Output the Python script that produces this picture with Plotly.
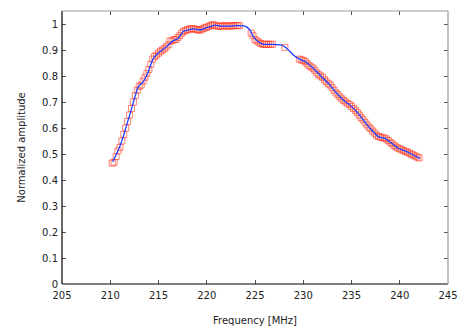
import plotly.graph_objects as go

# measured points (red squares)
meas_freq = [
    210.2, 210.4, 210.6, 210.8, 211.0, 211.2, 211.4, 211.6, 211.8, 212.0,
    212.2, 212.4, 212.6, 212.8, 213.0, 213.2, 213.4, 213.6, 213.8, 214.0,
    214.2, 214.4, 214.6, 214.8, 215.0, 215.2, 215.4, 215.6, 215.8, 216.0,
    216.2, 216.4, 216.6, 216.8, 217.0, 217.2, 217.4, 217.6, 217.8, 218.0,
    218.2, 218.4, 218.6, 218.8, 219.0, 219.2, 219.4, 219.6, 219.8, 220.0,
    220.2, 220.4, 220.6, 220.8, 221.0, 221.2, 221.4, 221.6, 221.8, 222.0,
    222.2, 222.4, 222.6, 222.8, 223.0, 223.2, 223.4,
    224.6, 224.8, 225.0, 225.2, 225.4, 225.6, 225.8, 226.0, 226.2, 226.4,
    226.6, 226.8,
    228.1,
    229.6, 229.8, 230.0, 230.2, 230.4, 230.6, 230.8, 231.0, 231.2, 231.4,
    231.6, 231.8, 232.0, 232.2, 232.4, 232.6, 232.8, 233.0, 233.2, 233.4,
    233.6, 233.8, 234.0, 234.2, 234.4, 234.6, 234.8, 235.0, 235.2, 235.4,
    235.6, 235.8, 236.0, 236.2, 236.4, 236.6, 236.8, 237.0, 237.2, 237.4,
    237.6, 237.8, 238.0, 238.2, 238.4, 238.6, 238.8, 239.0, 239.2, 239.4,
    239.6, 239.8, 240.0, 240.2, 240.4, 240.6, 240.8, 241.0, 241.2, 241.4,
    241.6, 241.8, 242.0,
]
meas_amp = [
    0.465, 0.468, 0.490, 0.512, 0.525, 0.550, 0.575, 0.600, 0.625, 0.650,
    0.675, 0.700, 0.725, 0.745, 0.760, 0.765, 0.780, 0.795, 0.810, 0.825,
    0.845, 0.865, 0.875, 0.880, 0.888, 0.895, 0.900, 0.905, 0.912, 0.920,
    0.935, 0.935, 0.940, 0.940, 0.948, 0.955, 0.965, 0.972, 0.975, 0.978,
    0.980, 0.982, 0.982, 0.980, 0.978, 0.976, 0.978, 0.982, 0.985, 0.988,
    0.990, 0.995, 0.997, 0.996, 0.993, 0.991, 0.992, 0.992, 0.993, 0.993,
    0.992, 0.992, 0.993, 0.993, 0.994, 0.994, 0.993,
    0.965, 0.955, 0.940, 0.935, 0.930, 0.925, 0.922, 0.922, 0.922, 0.922,
    0.922, 0.922,
    0.910,
    0.865, 0.862, 0.860, 0.855, 0.847, 0.840, 0.835, 0.830, 0.822, 0.812,
    0.805, 0.800, 0.795, 0.785, 0.778, 0.770, 0.765, 0.755, 0.745, 0.735,
    0.728, 0.720, 0.712, 0.706, 0.700, 0.695, 0.690, 0.683, 0.675, 0.668,
    0.660, 0.650, 0.640, 0.632, 0.622, 0.612, 0.603, 0.597, 0.588, 0.580,
    0.572, 0.567, 0.565, 0.563, 0.561, 0.558, 0.552, 0.545, 0.540, 0.533,
    0.527, 0.523, 0.520, 0.516, 0.513, 0.510, 0.507, 0.503, 0.499, 0.496,
    0.492, 0.488, 0.485,
]

# model curve (blue line)
fit_freq = [
    210.25, 210.84, 211.29, 211.70, 212.12, 212.56, 212.91, 213.43, 213.95, 214.46,
    215.16, 215.85, 216.37, 217.05, 217.57, 218.61, 219.30, 219.99, 220.85, 221.37,
    222.41, 223.27, 223.96, 224.48, 224.82, 225.34, 225.86, 226.73, 227.76, 228.28,
    228.97, 229.66, 230.18, 231.04, 231.91, 232.77, 233.47, 234.15, 234.84, 235.54,
    236.22, 236.92, 237.78, 238.47, 239.17, 239.85, 240.72, 241.40, 242.10,
]
fit_amp = [
    0.470, 0.515, 0.560, 0.611, 0.663, 0.720, 0.759, 0.778, 0.817, 0.868,
    0.894, 0.913, 0.932, 0.945, 0.971, 0.981, 0.977, 0.986, 0.996, 0.992,
    0.992, 0.994, 0.992, 0.977, 0.951, 0.932, 0.922, 0.922, 0.919, 0.907,
    0.881, 0.864, 0.856, 0.830, 0.797, 0.765, 0.733, 0.708, 0.688, 0.663,
    0.631, 0.599, 0.567, 0.560, 0.541, 0.522, 0.509, 0.496, 0.483,
]

x_ticks = [205, 210, 215, 220, 225, 230, 235, 240, 245]
y_ticks = [0, 0.1, 0.2, 0.3, 0.4, 0.5, 0.6, 0.7, 0.8, 0.9, 1]

fig = go.Figure()
fig.add_trace(go.Scatter(
    x=meas_freq, y=meas_amp, mode='markers', name='measured',
    marker=dict(symbol='square-open', size=6, color='rgba(255,50,25,0.6)',
                line=dict(width=1)),
))
fig.add_trace(go.Scatter(
    x=fit_freq, y=fit_amp, mode='lines', name='fit',
    line=dict(color='#1f3dff', width=1.3, shape='spline', smoothing=0.6),
))

label_font = dict(family='DejaVu Sans', size=10, color='#222')
axis_common = dict(
    showgrid=False, zeroline=False, showline=False, automargin=False,
    ticks='inside', ticklen=4, tickcolor='#555', mirror='ticks',
    tickfont=label_font,
)
fig.update_xaxes(
    range=[205, 245], tickvals=x_ticks, ticklabelstandoff=4,
    title=dict(text='Frequency [MHz]', font=label_font, standoff=16),
    **axis_common,
)
fig.update_yaxes(
    range=[0, 1.05], tickvals=y_ticks, ticklabelstandoff=3,
    title=dict(text='Normalized amplitude', font=label_font, standoff=14),
    **axis_common,
)

# gnuplot-like border: black left/bottom, grey top/right
border = [
    dict(x0=0, x1=1, y0=0, y1=0, color='#000'),
    dict(x0=0, x1=0, y0=0, y1=1, color='#000'),
    dict(x0=0, x1=1, y0=1, y1=1, color='#999'),
    dict(x0=1, x1=1, y0=0, y1=1, color='#999'),
]
for b in border:
    fig.add_shape(type='line', xref='paper', yref='paper',
                  x0=b['x0'], x1=b['x1'], y0=b['y0'], y1=b['y1'],
                  line=dict(color=b['color'], width=1.2), layer='above')

# page has an 8px body margin, so the figure is a bit smaller than the window
fig.update_layout(
    width=462, height=322,
    template='plotly_white',
    plot_bgcolor='white', paper_bgcolor='white',
    showlegend=False,
    margin=dict(l=54, r=22, t=3, b=46),
)
fig.write_html('out.html')
